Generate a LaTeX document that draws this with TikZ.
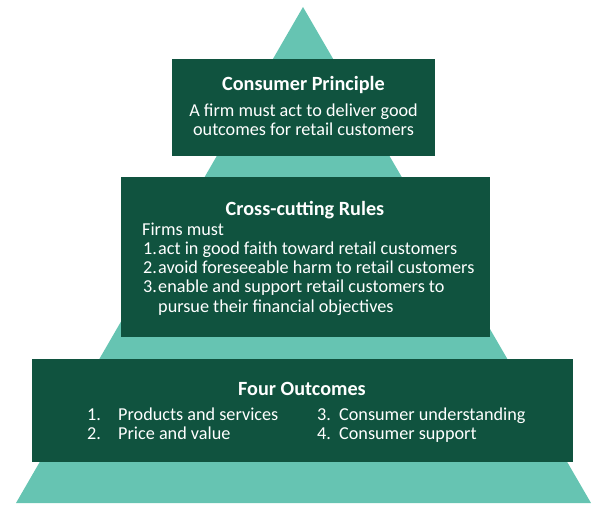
\documentclass[tikz,border=0pt]{standalone}
\usepackage{fontspec}
\setmainfont{Carlito}
\usepackage{xcolor}
\usetikzlibrary{positioning}
\definecolor{tierdark}{HTML}{10533F}
\definecolor{tierteal}{HTML}{66C4B2}

\begin{document}
\begin{tikzpicture}[
    x = 1pt, y = -1pt,
    tier/.style = {
      rectangle, fill = tierdark, draw = none, inner sep = 0pt,
      anchor = north west
    },
    heading/.style = {
      text = white, inner sep = 0pt, anchor = base,
      font = \fontsize{20.2}{24}\selectfont\bfseries
    },
    body/.style = {
      text = white, inner sep = 0pt, anchor = base west,
      font = \fontsize{18.2}{21}\selectfont
    },
    bodyc/.style = {
      body, anchor = base
    },
    ]
\useasboundingbox (0,0) rectangle (600,508);
% pyramid behind the tiers
\coordinate (apex)   at (303,7);
\coordinate (base_l) at (16,503);
\coordinate (base_r) at (591,503);
\fill  [tierteal]  (apex)  --  (base_r)  --  (base_l)  --  cycle;

\node  [tier, minimum width = 263pt, minimum height = 97pt]   (box_top)  at  (172,59)   {};
\node  [tier, minimum width = 369pt, minimum height = 160pt]  (box_mid)  at  (121,177)  {};
\node  [tier, minimum width = 541pt, minimum height = 103pt]  (box_low)  at  (32,359)   {};

% top tier
\node  [heading]  (principle)  at  (303.5,91)   {Consumer Principle};
\node  [bodyc]    (principle_1)  at  (303.5,117)  {A firm must act to deliver good};
\node  [bodyc]    (principle_2)  at  (303.5,136)  {outcomes for retail customers};

% middle tier
\node  [heading]  (rules)  at  (305,215)  {Cross-cutting Rules};
\node  [body]     (firms)  at  (142,235)  {Firms must};
\node  [body]     (rule_n1)  at  (143,254)  {1.};
\node  [body]     (rule_n2)  at  (143,273)  {2.};
\node  [body]     (rule_n3)  at  (143,292)  {3.};
\node  [body]     (rule_1)   at  (158,254)  {act in good faith toward retail customers};
\node  [body]     (rule_2)   at  (158,273)  {avoid foreseeable harm to retail customers};
\node  [body]     (rule_3)   at  (158,292)  {enable and support retail customers to};
\node  [body]     (rule_3b)  at  (158,312)  {pursue their financial objectives};

% bottom tier
\node  [heading]  (outcomes)  at  (302,395)  {Four Outcomes};
\node  [body]     (out_n1)  at  (87,420)   {1.};
\node  [body]     (out_n2)  at  (87,439)   {2.};
\node  [body]     (out_n3)  at  (317,420)  {3.};
\node  [body]     (out_n4)  at  (317,439)  {4.};
\node  [body]     (out_1)   at  (118,420)  {Products and services};
\node  [body]     (out_2)   at  (118,439)  {Price and value};
\node  [body]     (out_3)   at  (339,420)  {Consumer understanding};
\node  [body]     (out_4)   at  (339,439)  {Consumer support};
\end{tikzpicture}
\end{document}
